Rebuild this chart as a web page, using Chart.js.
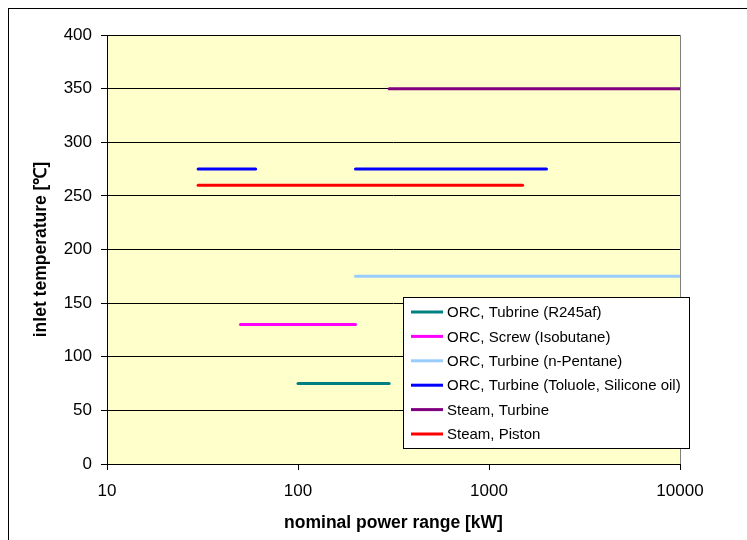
<!DOCTYPE html>
<html>
<head>
<meta charset="utf-8">
<script src="https://cdn.jsdelivr.net/npm/chart.js@4"></script>
<style>
html,body{margin:0;padding:0;background:#fff;}
#wrap{width:747px;height:540px;position:relative;}
</style>
</head>
<body>
<div id="wrap"><canvas id="c" width="747" height="540"></canvas></div>
<script>
// Data (power in kW, temperature in °C)
const seriesNames = [
  'ORC, Tubrine (R245af)',
  'ORC, Screw (Isobutane)',
  'ORC, Turbine (n-Pentane)',
  'ORC, Turbine (Toluole, Silicone oil)',
  'Steam, Turbine',
  'Steam, Piston'
];
const seriesColors = ['#008080', '#FF00FF', '#99CCFF', '#0000FF', '#800080', '#FF0000'];
const r245afPower = [100, 300];
const r245afTemp = [75, 75];
const isobutanePower = [50, 200];
const isobutaneTemp = [130, 130];
const pentanePower = [200, 10000];
const pentaneTemp = [175, 175];
const toluolePower = [30, 60, 100, 200, 2000];
const toluoleTemp = [275, 275, null, 275, 275];
const steamTurbinePower = [300, 10000];
const steamTurbineTemp = [350, 350];
const steamPistonPower = [30, 1500];
const steamPistonTemp = [260, 260];
const xTickValues = [10, 100, 1000, 10000];
const yTickValues = [0, 50, 100, 150, 200, 250, 300, 350, 400];

const powers = [r245afPower, isobutanePower, pentanePower, toluolePower, steamTurbinePower, steamPistonPower];
const temps = [r245afTemp, isobutaneTemp, pentaneTemp, toluoleTemp, steamTurbineTemp, steamPistonTemp];

const datasets = seriesNames.map((name, i) => ({
  label: name,
  data: powers[i].map((p, j) => ({x: p, y: temps[i][j]})),
  borderColor: seriesColors[i],
  backgroundColor: seriesColors[i],
  borderWidth: 3,
  pointRadius: 0,
  spanGaps: false,
  borderCapStyle: 'round',
  fill: false
}));

const FONT = '"Liberation Sans", Arial, sans-serif';

const bgPlugin = {
  id: 'bg',
  beforeDraw(chart) {
    const {ctx, chartArea: a} = chart;
    ctx.save();
    ctx.fillStyle = '#fff';
    ctx.fillRect(0, 0, chart.width, chart.height);
    ctx.strokeStyle = '#000';
    ctx.lineWidth = 1;
    ctx.strokeRect(8.5, 8.5, 800, 600);
    ctx.fillStyle = '#FFFFCC';
    ctx.fillRect(a.left, a.top, a.right - a.left, a.bottom - a.top);
    ctx.restore();
  },
  afterDatasetsDraw(chart) {
    const {ctx, chartArea: a} = chart;
    ctx.save();
    ctx.lineWidth = 1;
    ctx.strokeStyle = '#000';
    ctx.beginPath();
    ctx.moveTo(a.left + 0.5, a.bottom);
    ctx.lineTo(a.left + 0.5, a.top + 0.5);
    ctx.lineTo(a.right, a.top + 0.5);
    ctx.stroke();
    ctx.strokeStyle = '#808080';
    ctx.beginPath();
    ctx.moveTo(a.right + 0.5, a.top);
    ctx.lineTo(a.right + 0.5, a.bottom);
    ctx.stroke();
    ctx.strokeStyle = '#000';
    ctx.beginPath();
    ctx.moveTo(a.left, a.bottom + 0.5);
    ctx.lineTo(a.right + 1, a.bottom + 0.5);
    ctx.stroke();
    // legend
    const lx = 403, ly = 297, lw = 286, lh = 151;
    ctx.fillStyle = '#fff';
    ctx.fillRect(lx, ly, lw, lh);
    ctx.strokeStyle = '#000';
    ctx.strokeRect(lx + 0.5, ly + 0.5, lw, lh);
    ctx.font = '15px ' + FONT;
    ctx.textBaseline = 'middle';
    ctx.textAlign = 'left';
    chart.data.datasets.forEach((ds, i) => {
      const y = 312 + i * 24.4;
      ctx.strokeStyle = ds.borderColor;
      ctx.lineWidth = 3;
      ctx.beginPath();
      ctx.moveTo(411, y);
      ctx.lineTo(443, y);
      ctx.stroke();
      ctx.fillStyle = '#000';
      ctx.fillText(ds.label, 447, y + 1);
    });
    ctx.restore();
  }
};

new Chart(document.getElementById('c'), {
  type: 'line',
  data: {datasets},
  plugins: [bgPlugin],
  options: {
    responsive: false,
    animation: false,
    events: [],
    layout: {padding: {left: 8, top: 35, right: 67, bottom: 0}},
    plugins: {legend: {display: false}, tooltip: {enabled: false}},
    scales: {
      x: {
        type: 'logarithmic',
        min: 10, max: 10000,
        afterBuildTicks(scale) { scale.ticks = xTickValues.map(v => ({value: v})); },
        afterFit(scale) { scale.height = 76; },
        grid: {drawOnChartArea: false, drawTicks: true, tickLength: 6, color: '#000', lineWidth: 1},
        border: {display: false},
        ticks: {
          font: {family: FONT, size: 17}, color: '#000', padding: 11,
          maxRotation: 0, autoSkip: false,
          callback: v => String(v)
        },
        title: {
          display: true, text: 'nominal power range [kW]',
          font: {family: FONT, size: 17.5, weight: 'bold'}, color: '#000',
          padding: {top: 0, bottom: 6}
        }
      },
      y: {
        type: 'linear',
        min: 0, max: 400,
        afterBuildTicks(scale) { scale.ticks = yTickValues.map(v => ({value: v})); },
        afterFit(scale) { scale.width = 99; },
        grid: {drawOnChartArea: true, drawTicks: true, tickLength: 6, color: '#000', lineWidth: 1},
        border: {display: false},
        ticks: {
          font: {family: FONT, size: 17}, color: '#000', padding: 9,
          autoSkip: false
        },
        title: {
          display: true, text: 'inlet temperature [℃]',
          font: {family: FONT, size: 17.5, weight: 'bold'}, color: '#000',
          padding: {top: 23, bottom: 0}
        }
      }
    }
  }
});
</script>
</body>
</html>
